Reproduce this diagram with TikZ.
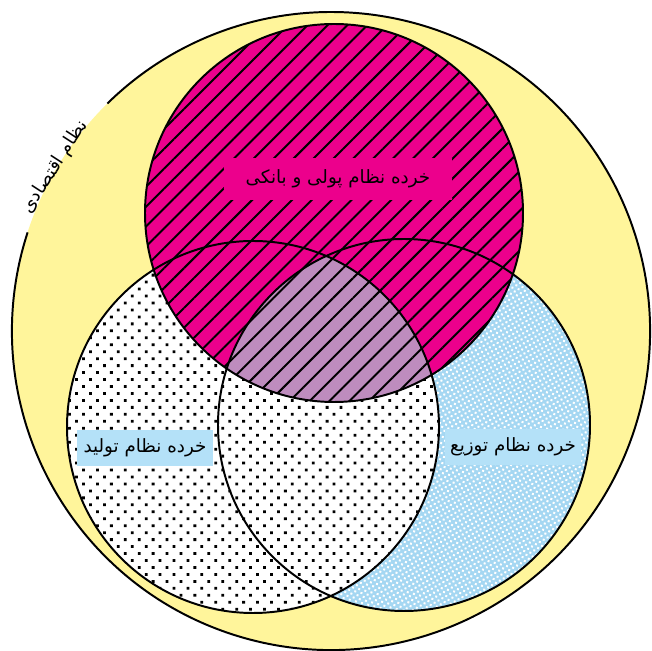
\documentclass[tikz,border=0pt]{standalone}
\usepackage{fontspec}
\usepackage{xcolor}
\usetikzlibrary{patterns.meta}
\TeXXeTstate=1
\newfontfamily\arabicfont[Script=Arabic]{DejaVu Sans}
\definecolor{econyellow}{RGB}{255,245,155}
\definecolor{moneypink}{RGB}{236,0,140}
\definecolor{overlapmauve}{RGB}{190,140,190}
\definecolor{labelblue}{RGB}{180,225,248}
\definecolor{speckblue}{RGB}{165,215,242}
\tikzset{
  outline/.style={draw=black, line width=1.4pt},
  hatch/.style={pattern={Lines[angle=45, distance=10pt, line width=1.4pt]}, pattern color=black},
  dotfill/.style={pattern={Dots[angle=45, distance=7pt, radius=1.4pt]}, pattern color=black},
  speckle/.style={pattern={Dots[angle=30, distance=3.2pt, radius=1pt]}, pattern color=white},
  sublbl/.style={font=\arabicfont\fontsize{13}{15}\selectfont, inner sep=2pt, align=center},
}

\begin{document}
\begin{tikzpicture}[x=0.025cm, y=0.025cm]
  \useasboundingbox (0,0) rectangle (652,651);

  \coordinate (cecon)  at (331,320);
  \coordinate (cmoney) at (334,438);
  \coordinate (cprod)  at (253,224);
  \coordinate (cdist)  at (404,226);

  % economy
  \fill[econyellow] (cecon) circle (319);

  % distribution and production
  \fill[speckblue] (cdist) circle (186);
  \fill[speckle] (cdist) circle (186);
  \fill[white] (cprod) circle (186);
  \fill[dotfill] (cprod) circle (186);

  % money and banking
  \fill[moneypink] (cmoney) circle (189);
  \begin{scope}
    \clip (cmoney) circle (189);
    \clip (cprod) circle (186);
    \fill[overlapmauve] (cdist) circle (186);
  \end{scope}
  \fill[hatch] (cmoney) circle (189);

  \draw[outline] (cdist) circle (186);
  \draw[outline] (cprod) circle (186);
  \draw[outline] (cmoney) circle (189);
  \draw[outline] (cecon) ++(162:319) arc[start angle=162, end angle=494.5, radius=319];

  \node[sublbl, fill=moneypink, minimum width=5.7cm, minimum height=1.05cm] (money) at (338,472)
    {\beginR خرده نظام پولی و بانکی\endR};
  \node[sublbl, fill=labelblue, minimum width=3.42cm, minimum height=0.92cm] (prod) at (145,203)
    {\beginR خرده نظام تولید\endR};
  \node[sublbl, fill=labelblue, minimum width=3.42cm, minimum height=0.92cm] (dist) at (513,204)
    {\beginR خرده نظام توزیع\endR};
  \node[sublbl, rotate=57] (econ) at (55,484) {\beginR نظام اقتصادی\endR};
\end{tikzpicture}
\end{document}
